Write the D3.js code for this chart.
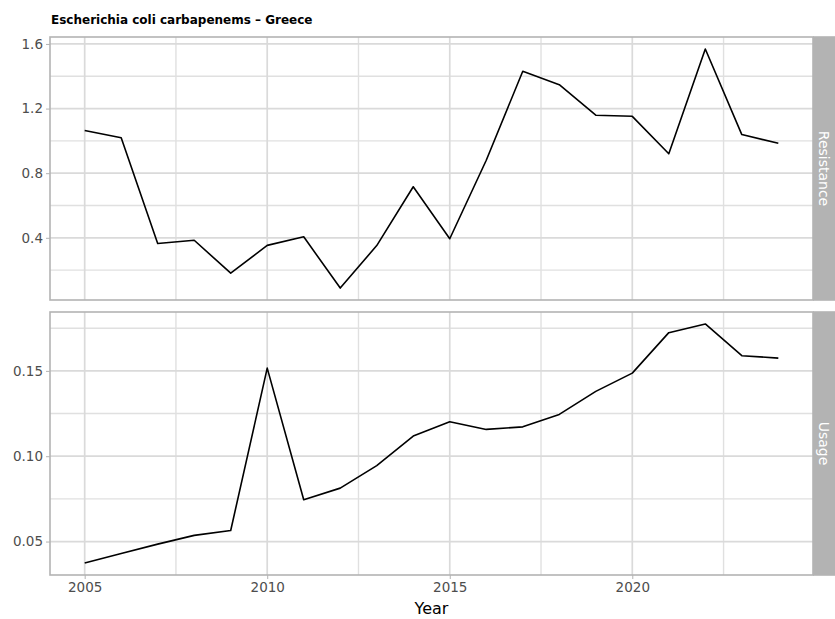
<!DOCTYPE html>
<html>
  <head>
    <meta charset="utf-8">
    <title>Escherichia coli carbapenems - Greece</title>
    <script src="https://d3js.org/d3.v7.min.js"></script>
    <style>
      body { margin: 0; background: #fff; }
      text { font-family: "DejaVu Sans", sans-serif; }
    </style>
  </head>
  <body>
    <script>
      var width = 835;
      var height = 619;

      var years = [2005, 2006, 2007, 2008, 2009, 2010, 2011, 2012, 2013, 2014,
                   2015, 2016, 2017, 2018, 2019, 2020, 2021, 2022, 2023, 2024];
      var resistance = [1.064, 1.019, 0.365, 0.385, 0.181, 0.353, 0.406, 0.089, 0.352, 0.716,
                        0.394, 0.880, 1.431, 1.348, 1.159, 1.152, 0.920, 1.569, 1.039, 0.985];
      var usage = [0.0374, 0.0430, 0.0485, 0.0536, 0.0565, 0.1516, 0.0745, 0.0813, 0.0945, 0.1118,
                   0.1202, 0.1157, 0.1172, 0.1245, 0.1380, 0.1487, 0.1724, 0.1775, 0.1589, 0.1575];

      var xTicks = [2005, 2010, 2015, 2020];
      var xMinor = [2007.5, 2012.5, 2017.5, 2022.5];
      var resTicks = [0.4, 0.8, 1.2, 1.6];
      var resMinor = [0.2, 0.6, 1.0, 1.4];
      var useTicks = [0.05, 0.10, 0.15];
      var useMinor = [0.075, 0.125, 0.175];

      var title = "Escherichia coli carbapenems \u2013  Greece";
      var xTitle = "Year";

      var left = 50, right = 813, stripRight = 835;

      var panels = [
        {name: "Resistance", values: resistance, ticks: resTicks, minor: resMinor, fmt: d3.format(".1f"), top: 37, bottom: 300},
        {name: "Usage", values: usage, ticks: useTicks, minor: useMinor, fmt: d3.format(".2f"), top: 312, bottom: 575}
      ];

      var svg = d3.select("body")
        .append("svg")
        .attr("width", width)
        .attr("height", height);

      var xScale = d3.scaleLinear()
        .domain([2005 - 0.95, 2024 + 0.95])
        .range([left, right]);

      svg.append("text")
        .attr("x", 51)
        .attr("y", 24)
        .attr("font-size", "12px")
        .attr("font-weight", "bold")
        .attr("fill", "#000")
        .text(title);

      panels.forEach(function(p, pi) {
        var ext = d3.extent(p.values);
        var pad = (ext[1] - ext[0]) * 0.05;
        var yScale = d3.scaleLinear()
          .domain([ext[0] - pad, ext[1] + pad])
          .range([p.bottom, p.top]);

        var g = svg.append("g");

        // minor grid
        g.selectAll(".hminor")
          .data(p.minor)
          .enter()
          .append("line")
          .attr("x1", left).attr("x2", right)
          .attr("y1", function(d) { return yScale(d); })
          .attr("y2", function(d) { return yScale(d); })
          .attr("stroke", "#e0e0e0")
          .attr("stroke-width", 1.4);

        g.selectAll(".vminor")
          .data(xMinor)
          .enter()
          .append("line")
          .attr("y1", p.top).attr("y2", p.bottom)
          .attr("x1", function(d) { return xScale(d); })
          .attr("x2", function(d) { return xScale(d); })
          .attr("stroke", "#e0e0e0")
          .attr("stroke-width", 1.4);

        // major grid
        g.selectAll(".hmajor")
          .data(p.ticks)
          .enter()
          .append("line")
          .attr("x1", left).attr("x2", right)
          .attr("y1", function(d) { return yScale(d); })
          .attr("y2", function(d) { return yScale(d); })
          .attr("stroke", "#dadada")
          .attr("stroke-width", 1.7);

        g.selectAll(".vmajor")
          .data(xTicks)
          .enter()
          .append("line")
          .attr("y1", p.top).attr("y2", p.bottom)
          .attr("x1", function(d) { return xScale(d); })
          .attr("x2", function(d) { return xScale(d); })
          .attr("stroke", "#dadada")
          .attr("stroke-width", 1.7);

        // data line
        var line = d3.line()
          .x(function(d, i) { return xScale(years[i]); })
          .y(function(d) { return yScale(d); });

        g.append("path")
          .datum(p.values)
          .attr("d", line)
          .attr("fill", "none")
          .attr("stroke", "#000")
          .attr("stroke-width", 1.6)
          .attr("stroke-linejoin", "round");

        // panel border
        g.append("rect")
          .attr("x", left)
          .attr("y", p.top)
          .attr("width", right - left)
          .attr("height", p.bottom - p.top)
          .attr("fill", "none")
          .attr("stroke", "#b3b3b3")
          .attr("stroke-width", 1.6);

        // y axis
        var yAxis = svg.append("g")
          .attr("transform", `translate(${left},0)`)
          .call(d3.axisLeft(yScale).tickValues(p.ticks).tickFormat(p.fmt).tickSize(4).tickPadding(3));
        yAxis.select(".domain").remove();
        yAxis.selectAll(".tick line").attr("stroke", "#b3b3b3").attr("stroke-width", 1);
        yAxis.selectAll(".tick text")
          .attr("fill", "#4d4d4d")
          .attr("font-size", "13.5px")
          .attr("font-family", "DejaVu Sans, sans-serif");

        // strip
        svg.append("rect")
          .attr("x", right)
          .attr("y", p.top - 0.8)
          .attr("width", stripRight - right)
          .attr("height", p.bottom - p.top + 1.6)
          .attr("fill", "#b3b3b3");

        svg.append("text")
          .attr("transform", `translate(${(right + stripRight) / 2},${(p.top + p.bottom) / 2}) rotate(90)`)
          .attr("text-anchor", "middle")
          .attr("dominant-baseline", "central")
          .attr("font-size", "14px")
          .attr("fill", "#ffffff")
          .text(p.name);

        if (pi === panels.length - 1) {
          var xAxis = svg.append("g")
            .attr("transform", `translate(0,${p.bottom})`)
            .call(d3.axisBottom(xScale).tickValues(xTicks).tickFormat(d3.format("d")).tickSize(4).tickPadding(3));
          xAxis.select(".domain").remove();
          xAxis.selectAll(".tick line").attr("stroke", "#b3b3b3").attr("stroke-width", 1);
          xAxis.selectAll(".tick text")
            .attr("fill", "#4d4d4d")
            .attr("font-size", "13.5px")
            .attr("font-family", "DejaVu Sans, sans-serif");
        }
      });

      svg.append("text")
        .attr("x", (left + right) / 2)
        .attr("y", 614)
        .attr("text-anchor", "middle")
        .attr("font-size", "16px")
        .attr("fill", "#000")
        .text(xTitle);
    </script>
  </body>
</html>
